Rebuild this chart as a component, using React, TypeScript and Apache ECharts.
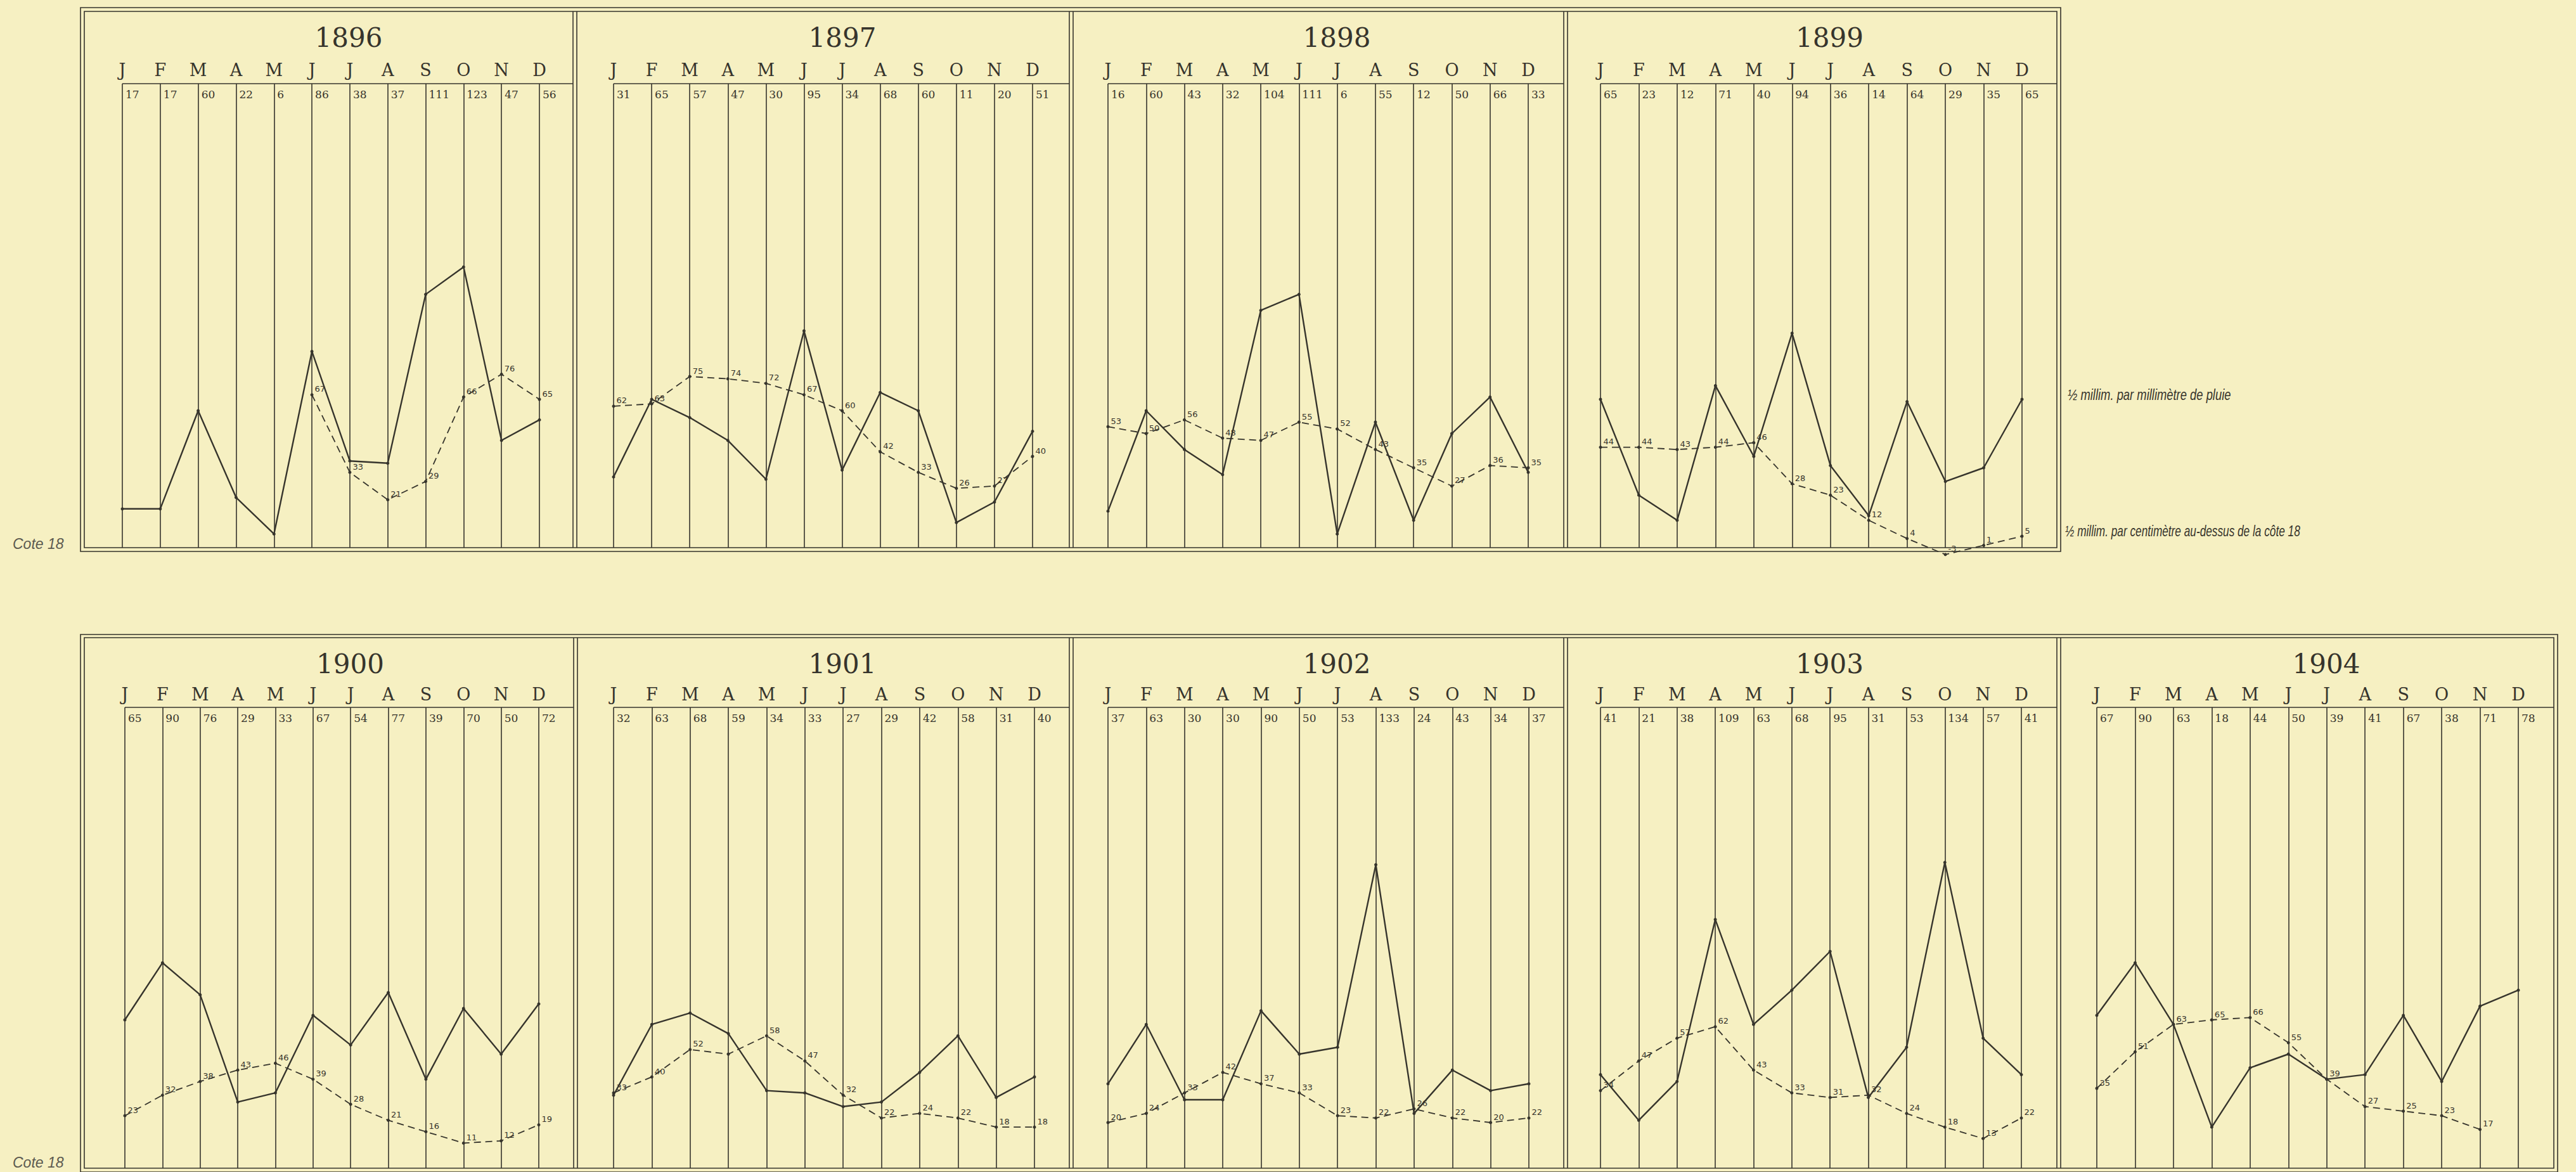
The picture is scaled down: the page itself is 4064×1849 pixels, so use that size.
import React, { useEffect, useRef } from "react";
import * as echarts from "echarts";

// ---------- data ----------
const months = ["J", "F", "M", "A", "M", "J", "J", "A", "S", "O", "N", "D"];
const years = ["1896", "1897", "1898", "1899", "1900", "1901", "1902", "1903", "1904"];

// monthly rainfall (mm), as printed in the number row
const rain1896 = [17, 17, 60, 22, 6, 86, 38, 37, 111, 123, 47, 56];
const rain1897 = [31, 65, 57, 47, 30, 95, 34, 68, 60, 11, 20, 51];
const rain1898 = [16, 60, 43, 32, 104, 111, 6, 55, 12, 50, 66, 33];
const rain1899 = [65, 23, 12, 71, 40, 94, 36, 14, 64, 29, 35, 65];
const rain1900 = [65, 90, 76, 29, 33, 67, 54, 77, 39, 70, 50, 72];
const rain1901 = [32, 63, 68, 59, 34, 33, 27, 29, 42, 58, 31, 40];
const rain1902 = [37, 63, 30, 30, 90, 50, 53, 133, 24, 43, 34, 37];
const rain1903 = [41, 21, 38, 109, 63, 68, 95, 31, 53, 134, 57, 41];
const rain1904 = [67, 90, 63, 18, 44, 50, 39, 41, 67, 38, 71, 78];

// where the drawn solid line departs from the printed figure
const drawnRain1902 = [37, 63, 30, 30, 69, 50, 53, 133, 24, 43, 34, 37];
const drawnRain1903 = [41, 21, 38, 109, 63, 78, 95, 31, 53, 134, 57, 41];

// water level (cm above cote 18), dashed line
const level1896 = ["-", "-", "-", "-", "-", 67, 33, 21, 29, 66, 76, 65];
const level1897 = [62, 63, 75, 74, 72, 67, 60, 42, 33, 26, 27, 40];
const level1898 = [53, 50, 56, 48, 47, 55, 52, 43, 35, 27, 36, 35];
const level1899 = [44, 44, 43, 44, 46, 28, 23, 12, 4, -3, 1, 5];
const level1900 = [23, 32, 38, 43, 46, 39, 28, 21, 16, 11, 12, 19];
const level1901 = [33, 40, 52, 50, 58, 47, 32, 22, 24, 22, 18, 18];
const level1902 = [20, 24, 33, 42, 37, 33, 23, 22, 26, 22, 20, 22];
const level1903 = [34, 47, 57, 62, 43, 33, 31, 32, 24, 18, 13, 22];
const level1904 = [35, 51, 63, 65, 66, 55, 39, 27, 25, 23, 17, "-"];

// points of the dashed line that carry no figure: [panel, month]
const unlabelledLevels = [[5, 3]];

const rainByPanel = [rain1896, rain1897, rain1898, rain1899, rain1900, rain1901, rain1902, rain1903, rain1904];
const drawnRainByPanel = [rain1896, rain1897, rain1898, rain1899, rain1900, rain1901, drawnRain1902, drawnRain1903, rain1904];
const levelByPanel = [level1896, level1897, level1898, level1899, level1900, level1901, level1902, level1903, level1904];

const rainNote = "½ millim. par millimètre de pluie";
const levelNote = "½ millim. par centimètre au-dessus de la côte 18";
const coteLabel = "Cote 18";

// ---------- layout ----------
const W = 4064;
const H = 1849;
const BG = "#f6f0c2";
const INK = "#36342c";
const PX_PER_UNIT = 3.6;

const rows = [
  { outerTop: 12, innerTop: 18, header: 132, bottom: 864, outerBottom: 870, titleY: 59, monthY: 110, seps: [130, 907, 1690, 2470, 3248] },
  { outerTop: 1001, innerTop: 1006, header: 1116, bottom: 1843, outerBottom: 1849, titleY: 1047, monthY: 1095, seps: [130, 908, 1690, 2470, 3248, 4032] },
];
const panelRow = [0, 0, 0, 0, 1, 1, 1, 1, 1];
const panelCol = [0, 1, 2, 3, 0, 1, 2, 3, 4];
const panelLines = [
  [193, 851], [968, 1629], [1748, 2411], [2525, 3190],
  [197, 850], [968, 1632], [1748, 2412], [2525, 3189], [3308, 3973],
];

const NOTE_FONT = "italic 23px 'Liberation Sans', sans-serif";

function buildOption() {
  const grid: any[] = [];
  const xAxis: any[] = [];
  const yAxis: any[] = [];
  const series: any[] = [];
  const graphic: any[] = [];

  // frames
  rows.forEach((r) => {
    const x0 = r.seps[0];
    const x1 = r.seps[r.seps.length - 1];
    graphic.push({
      type: "rect", silent: true,
      shape: { x: x0 - 3, y: r.outerTop, width: x1 - x0 + 6, height: r.outerBottom - r.outerTop },
      style: { fill: "none", stroke: INK, lineWidth: 1.6 },
    });
    graphic.push({
      type: "rect", silent: true,
      shape: { x: x0 + 3, y: r.innerTop, width: x1 - x0 - 6, height: r.bottom - r.innerTop },
      style: { fill: "none", stroke: INK, lineWidth: 1.6 },
    });
    r.seps.slice(1, -1).forEach((s) => {
      [-3, 3].forEach((d) => {
        graphic.push({
          type: "line", silent: true,
          shape: { x1: s + d, y1: r.innerTop, x2: s + d, y2: r.bottom },
          style: { stroke: INK, lineWidth: 1.6 },
        });
      });
    });
  });

  years.forEach((year, i) => {
    const r = rows[panelRow[i]];
    const [first, last] = panelLines[i];
    const rightSep = r.seps[panelCol[i] + 1];
    const height = r.bottom - r.header;

    grid.push({ left: first, top: r.header, width: last - first, height });

    // header line
    graphic.push({
      type: "line", silent: true,
      shape: { x1: first, y1: r.header, x2: rightSep - 3, y2: r.header },
      style: { stroke: INK, lineWidth: 1.6 },
    });
    // year title
    graphic.push({
      type: "text", silent: true,
      x: (first + rightSep) / 2, y: r.titleY,
      style: {
        text: year, fill: INK, font: "42px 'DejaVu Serif'",
        align: "center", verticalAlign: "middle", textAlign: "center", textVerticalAlign: "middle",
      },
    });

    // month letters + vertical rules
    xAxis.push({
      type: "category", gridIndex: i, position: "top", data: months, boundaryGap: false,
      axisLine: { show: false }, axisTick: { show: false },
      axisLabel: {
        interval: 0, margin: r.header - r.monthY, verticalAlign: "middle",
        fontFamily: "DejaVu Serif", fontSize: 27, color: INK,
      },
      splitLine: { show: true, interval: 0, lineStyle: { color: INK, width: 1.6 } },
    });
    // printed rainfall figures
    xAxis.push({
      type: "category", gridIndex: i, position: "top", data: rainByPanel[i].map(String), boundaryGap: false,
      axisLine: { show: false }, axisTick: { show: false }, splitLine: { show: false },
      axisLabel: {
        inside: true, interval: 0, margin: 17, align: "left", verticalAlign: "middle",
        padding: [0, 0, 0, 5], fontFamily: "DejaVu Serif", fontSize: 17, color: INK,
      },
    });
    yAxis.push({ type: "value", gridIndex: i, min: 0, max: height / PX_PER_UNIT, show: false });

    series.push({
      type: "line", name: "pluie " + year, xAxisIndex: 2 * i, yAxisIndex: i,
      data: drawnRainByPanel[i], symbol: "circle", symbolSize: 5, clip: false, silent: true,
      lineStyle: { color: INK, width: 2.4 }, itemStyle: { color: INK }, z: 4,
    });
    series.push({
      type: "line", name: "niveau " + year, xAxisIndex: 2 * i, yAxisIndex: i,
      data: levelByPanel[i].map((v, m) =>
        unlabelledLevels.some(([p, mm]) => p === i && mm === m) ? { value: v, label: { show: false } } : v
      ),
      symbol: "circle", symbolSize: 5, clip: false, silent: true, connectNulls: false,
      lineStyle: { color: INK, width: 1.8, type: [11, 7] }, itemStyle: { color: INK }, z: 3,
      label: {
        show: true, position: "right", distance: 2, offset: [0, -9],
        fontFamily: "DejaVu Sans", fontSize: 13, color: INK,
      },
    });
  });

  // annotations
  graphic.push({
    type: "text", silent: true, x: 3262, y: 623, scaleX: 0.8,
    style: { text: rainNote, fill: INK, font: NOTE_FONT, verticalAlign: "middle", textVerticalAlign: "middle" },
  });
  graphic.push({
    type: "text", silent: true, x: 3258, y: 838, scaleX: 0.75,
    style: { text: levelNote, fill: INK, font: NOTE_FONT, verticalAlign: "middle", textVerticalAlign: "middle" },
  });
  [858, 1834].forEach((y) => {
    graphic.push({
      type: "text", silent: true, x: 20, y,
      style: { text: coteLabel, fill: "#5c5a50", font: "italic 23px 'Liberation Sans', sans-serif", verticalAlign: "middle", textVerticalAlign: "middle" },
    });
  });

  return { animation: false, backgroundColor: BG, grid, xAxis, yAxis, series, graphic };
}

export default function App() {
  const ref = useRef<HTMLDivElement>(null);
  useEffect(() => {
    if (!ref.current) return;
    const chart = echarts.init(ref.current, null, { renderer: "svg" });
    chart.setOption(buildOption() as any);
    return () => chart.dispose();
  }, []);
  return (
    <div
      ref={ref}
      style={{ position: "fixed", left: 0, top: 0, width: W, height: H, background: BG }}
    />
  );
}
